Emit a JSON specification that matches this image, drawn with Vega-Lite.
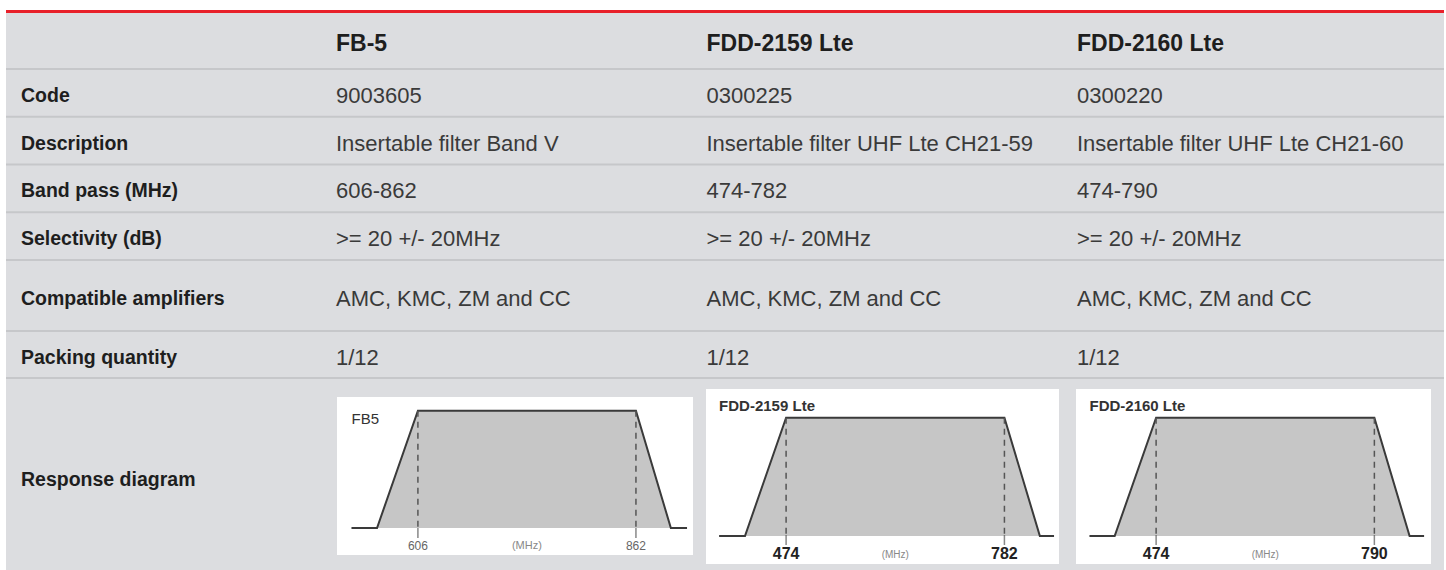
{
  "$schema": "https://vega.github.io/schema/vega-lite/v6.json",
  "background": "white",
  "padding": {"left": 5, "top": 10, "right": 3, "bottom": 0},
  "spacing": 0,
  "bounds": "flush",
  "config": {
    "view": {"stroke": null, "fill": "#dcdde0"},
    "text": {"font": "Liberation Sans"},
    "concat": {"spacing": 0}
  },
  "datasets": {
    "rows": [
      {"row": "Code", "section": "specs"},
      {"row": "Description", "section": "specs"},
      {"row": "Band pass (MHz)", "section": "specs"},
      {"row": "Selectivity (dB)", "section": "specs"},
      {"row": "Compatible amplifiers", "section": "compat"},
      {"row": "Packing quantity", "section": "packing"},
      {"row": "Response diagram", "section": "response"}
    ],
    "products": [
      {"product": "FB-5"},
      {"product": "FDD-2159 Lte"},
      {"product": "FDD-2160 Lte"}
    ],
    "cells": [
      {"row": "Code", "product": "FB-5", "value": "9003605"},
      {"row": "Code", "product": "FDD-2159 Lte", "value": "0300225"},
      {"row": "Code", "product": "FDD-2160 Lte", "value": "0300220"},
      {"row": "Description", "product": "FB-5", "value": "Insertable filter Band V"},
      {"row": "Description", "product": "FDD-2159 Lte", "value": "Insertable filter UHF Lte CH21-59"},
      {"row": "Description", "product": "FDD-2160 Lte", "value": "Insertable filter UHF Lte CH21-60"},
      {"row": "Band pass (MHz)", "product": "FB-5", "value": "606-862"},
      {"row": "Band pass (MHz)", "product": "FDD-2159 Lte", "value": "474-782"},
      {"row": "Band pass (MHz)", "product": "FDD-2160 Lte", "value": "474-790"},
      {"row": "Selectivity (dB)", "product": "FB-5", "value": ">= 20 +/- 20MHz"},
      {"row": "Selectivity (dB)", "product": "FDD-2159 Lte", "value": ">= 20 +/- 20MHz"},
      {"row": "Selectivity (dB)", "product": "FDD-2160 Lte", "value": ">= 20 +/- 20MHz"},
      {"row": "Compatible amplifiers", "product": "FB-5", "value": "AMC, KMC, ZM and CC"},
      {"row": "Compatible amplifiers", "product": "FDD-2159 Lte", "value": "AMC, KMC, ZM and CC"},
      {"row": "Compatible amplifiers", "product": "FDD-2160 Lte", "value": "AMC, KMC, ZM and CC"},
      {"row": "Packing quantity", "product": "FB-5", "value": "1/12"},
      {"row": "Packing quantity", "product": "FDD-2159 Lte", "value": "1/12"},
      {"row": "Packing quantity", "product": "FDD-2160 Lte", "value": "1/12"}
    ],
    "response": [
      {"product": "FB-5", "freq": 528, "level": 0},
      {"product": "FB-5", "freq": 558, "level": 0},
      {"product": "FB-5", "freq": 606, "level": 1},
      {"product": "FB-5", "freq": 862, "level": 1},
      {"product": "FB-5", "freq": 903, "level": 0},
      {"product": "FB-5", "freq": 922, "level": 0},
      {"product": "FDD-2159 Lte", "freq": 379.5, "level": 0},
      {"product": "FDD-2159 Lte", "freq": 416, "level": 0},
      {"product": "FDD-2159 Lte", "freq": 474, "level": 1},
      {"product": "FDD-2159 Lte", "freq": 782, "level": 1},
      {"product": "FDD-2159 Lte", "freq": 832, "level": 0},
      {"product": "FDD-2159 Lte", "freq": 852, "level": 0},
      {"product": "FDD-2160 Lte", "freq": 377.5, "level": 0},
      {"product": "FDD-2160 Lte", "freq": 414, "level": 0},
      {"product": "FDD-2160 Lte", "freq": 474, "level": 1},
      {"product": "FDD-2160 Lte", "freq": 790, "level": 1},
      {"product": "FDD-2160 Lte", "freq": 841, "level": 0},
      {"product": "FDD-2160 Lte", "freq": 862, "level": 0}
    ]
  },
  "vconcat": [
    {
      "width": 1438, "height": 3,
      "view": {"fill": "#e8202a"},
      "data": {"values": []},
      "mark": "rect",
      "encoding": {}
    },
    {
      "width": 1438, "height": 56,
      "data": {"name": "products"},
      "mark": {"type": "text", "align": "left", "fontWeight": "bold", "fontSize": 23, "dy": 3, "color": "#1e1e1e"},
      "encoding": {
        "x": {"field": "product", "type": "nominal", "sort": null, "bandPosition": 0.0405,
              "scale": {"type": "band", "paddingInner": 0, "paddingOuter": 0, "range": [315, 1426.5]}, "axis": null},
        "text": {"field": "product"}
      }
    },
    {
      "width": 1438, "height": 191,
      "resolve": {"scale": {"x": "independent"}},
      "layer": [
        {
          "data": {"name": "rows"},
          "transform": [{"filter": {"field": "section", "equal": "specs"}}],
          "mark": {"type": "rule", "color": "#c6c7ca", "strokeWidth": 2},
          "encoding": {
            "y": {"field": "row", "type": "nominal", "bandPosition": 0,
                  "scale": {"type": "band", "domain": ["Code", "Description", "Band pass (MHz)", "Selectivity (dB)"], "paddingInner": 0, "paddingOuter": 0}, "axis": null}
          }
        },
        {
          "data": {"name": "rows"},
          "transform": [{"filter": {"field": "section", "equal": "specs"}}],
          "mark": {"type": "text", "align": "left", "fontWeight": "bold", "fontSize": 19.5, "dy": 3, "color": "#1e1e1e"},
          "encoding": {
            "x": {"field": "section", "type": "nominal", "bandPosition": 0.0476,
                  "scale": {"type": "band", "paddingInner": 0, "paddingOuter": 0, "range": [0, 315]}, "axis": null},
            "y": {"field": "row", "type": "nominal",
                  "scale": {"type": "band", "domain": ["Code", "Description", "Band pass (MHz)", "Selectivity (dB)"], "paddingInner": 0, "paddingOuter": 0}, "axis": null},
            "text": {"field": "row"}
          }
        },
        {
          "data": {"name": "cells"},
          "transform": [{"filter": {"field": "row", "oneOf": ["Code", "Description", "Band pass (MHz)", "Selectivity (dB)"]}}],
          "mark": {"type": "text", "align": "left", "fontSize": 22, "dy": 3, "color": "#3a3a3a"},
          "encoding": {
            "x": {"field": "product", "type": "nominal", "sort": null, "bandPosition": 0.0405,
                  "scale": {"type": "band", "domain": ["FB-5", "FDD-2159 Lte", "FDD-2160 Lte"], "paddingInner": 0, "paddingOuter": 0, "range": [315, 1426.5]}, "axis": null},
            "y": {"field": "row", "type": "nominal",
                  "scale": {"type": "band", "domain": ["Code", "Description", "Band pass (MHz)", "Selectivity (dB)"], "paddingInner": 0, "paddingOuter": 0}, "axis": null},
            "text": {"field": "value"}
          }
        }
      ]
    },
    {
      "width": 1438, "height": 71,
      "resolve": {"scale": {"x": "independent"}},
      "layer": [
        {
          "data": {"name": "rows"},
          "transform": [{"filter": {"field": "section", "equal": "compat"}}],
          "mark": {"type": "rule", "color": "#c6c7ca", "strokeWidth": 2},
          "encoding": {
            "y": {"field": "row", "type": "nominal", "bandPosition": 0,
                  "scale": {"type": "band", "paddingInner": 0, "paddingOuter": 0}, "axis": null}
          }
        },
        {
          "data": {"name": "rows"},
          "transform": [{"filter": {"field": "section", "equal": "compat"}}],
          "mark": {"type": "text", "align": "left", "fontWeight": "bold", "fontSize": 19.5, "dy": 3, "color": "#1e1e1e"},
          "encoding": {
            "x": {"field": "section", "type": "nominal", "bandPosition": 0.0476,
                  "scale": {"type": "band", "paddingInner": 0, "paddingOuter": 0, "range": [0, 315]}, "axis": null},
            "y": {"field": "row", "type": "nominal", "scale": {"type": "band", "paddingInner": 0, "paddingOuter": 0}, "axis": null},
            "text": {"field": "row"}
          }
        },
        {
          "data": {"name": "cells"},
          "transform": [{"filter": {"field": "row", "equal": "Compatible amplifiers"}}],
          "mark": {"type": "text", "align": "left", "fontSize": 22, "dy": 3, "color": "#3a3a3a"},
          "encoding": {
            "x": {"field": "product", "type": "nominal", "sort": null, "bandPosition": 0.0405,
                  "scale": {"type": "band", "domain": ["FB-5", "FDD-2159 Lte", "FDD-2160 Lte"], "paddingInner": 0, "paddingOuter": 0, "range": [315, 1426.5]}, "axis": null},
            "y": {"field": "row", "type": "nominal", "scale": {"type": "band", "paddingInner": 0, "paddingOuter": 0}, "axis": null},
            "text": {"field": "value"}
          }
        }
      ]
    },
    {
      "width": 1438, "height": 48,
      "resolve": {"scale": {"x": "independent"}},
      "layer": [
        {
          "data": {"name": "rows"},
          "transform": [{"filter": {"field": "section", "equal": "packing"}}],
          "mark": {"type": "rule", "color": "#c6c7ca", "strokeWidth": 2},
          "encoding": {
            "y": {"field": "row", "type": "nominal", "bandPosition": 0,
                  "scale": {"type": "band", "paddingInner": 0, "paddingOuter": 0}, "axis": null}
          }
        },
        {
          "data": {"name": "rows"},
          "transform": [{"filter": {"field": "section", "equal": "packing"}}],
          "mark": {"type": "rule", "color": "#c6c7ca", "strokeWidth": 2},
          "encoding": {
            "y": {"field": "row", "type": "nominal", "bandPosition": 0.98,
                  "scale": {"type": "band", "paddingInner": 0, "paddingOuter": 0}, "axis": null}
          }
        },
        {
          "data": {"name": "rows"},
          "transform": [{"filter": {"field": "section", "equal": "packing"}}],
          "mark": {"type": "text", "align": "left", "fontWeight": "bold", "fontSize": 19.5, "dy": 3, "color": "#1e1e1e"},
          "encoding": {
            "x": {"field": "section", "type": "nominal", "bandPosition": 0.0476,
                  "scale": {"type": "band", "paddingInner": 0, "paddingOuter": 0, "range": [0, 315]}, "axis": null},
            "y": {"field": "row", "type": "nominal", "scale": {"type": "band", "paddingInner": 0, "paddingOuter": 0}, "axis": null},
            "text": {"field": "row"}
          }
        },
        {
          "data": {"name": "cells"},
          "transform": [{"filter": {"field": "row", "equal": "Packing quantity"}}],
          "mark": {"type": "text", "align": "left", "fontSize": 22, "dy": 3, "color": "#3a3a3a"},
          "encoding": {
            "x": {"field": "product", "type": "nominal", "sort": null, "bandPosition": 0.0405,
                  "scale": {"type": "band", "domain": ["FB-5", "FDD-2159 Lte", "FDD-2160 Lte"], "paddingInner": 0, "paddingOuter": 0, "range": [315, 1426.5]}, "axis": null},
            "y": {"field": "row", "type": "nominal", "scale": {"type": "band", "paddingInner": 0, "paddingOuter": 0}, "axis": null},
            "text": {"field": "value"}
          }
        }
      ]
    },
    {
      "width": 1438, "height": 191,
      "resolve": {"scale": {"x": "independent", "y": "independent"}},
      "layer": [
        {
          "data": {"name": "rows"},
          "transform": [{"filter": {"field": "section", "equal": "response"}}],
          "mark": {"type": "text", "align": "left", "fontWeight": "bold", "fontSize": 19.5, "dy": 5, "color": "#1e1e1e"},
          "encoding": {
            "x": {"field": "section", "type": "nominal", "bandPosition": 0.0476,
                  "scale": {"type": "band", "paddingInner": 0, "paddingOuter": 0, "range": [0, 315]}, "axis": null},
            "text": {"field": "row"}
          }
        },
        {
          "data": {"name": "response"},
          "transform": [{"filter": {"field": "product", "equal": "FB-5"}}],
          "encoding": {
            "x": {"field": "freq", "type": "quantitative", "scale": {"domain": [511, 929], "range": [331, 687], "nice": false, "zero": false}, "axis": null}
          },
          "layer": [
            {
              "transform": [{"aggregate": [{"op": "count", "as": "n"}]}],
              "mark": {"type": "rect", "color": "white"},
              "encoding": {
                "x": {"datum": 511, "type": "quantitative", "scale": {"domain": [511, 929], "range": [331, 687], "nice": false, "zero": false}, "axis": null},
                "x2": {"datum": 929},
                "y": {"datum": -0.23, "type": "quantitative", "scale": {"domain": [-0.23, 1.117], "range": [176, 18], "nice": false, "zero": false}, "axis": null},
                "y2": {"datum": 1.117}
              }
            },
            {
              "mark": {"type": "area", "color": "#c6c6c6", "opacity": 1},
              "encoding": {
                "y": {"field": "level", "type": "quantitative", "scale": {"domain": [-0.23, 1.117], "range": [176, 18], "nice": false, "zero": false}, "axis": null},
                "y2": {"datum": 0}
              }
            },
            {
              "mark": {"type": "line", "color": "#3a3a3a", "strokeWidth": 2},
              "encoding": {
                "y": {"field": "level", "type": "quantitative", "scale": {"domain": [-0.23, 1.117], "range": [176, 18], "nice": false, "zero": false}, "axis": null}
              }
            },
            {
              "transform": [{"filter": "datum.level == 1"}],
              "mark": {"type": "rule", "color": "#555555", "strokeWidth": 1.5, "strokeDash": [6, 5]},
              "encoding": {
                "y": {"field": "level", "type": "quantitative", "scale": {"domain": [-0.23, 1.117], "range": [176, 18], "nice": false, "zero": false}, "axis": null},
                "y2": {"datum": 0}
              }
            },
            {
              "transform": [{"filter": "datum.level == 1"}],
              "mark": {"type": "tick", "orient": "vertical", "size": 10, "thickness": 1.5, "yOffset": 5, "color": "#555555"},
              "encoding": {
                "y": {"datum": 0, "type": "quantitative", "scale": {"domain": [-0.23, 1.117], "range": [176, 18], "nice": false, "zero": false}, "axis": null}
              }
            },
            {
              "transform": [{"filter": "datum.level == 1"}],
              "mark": {"type": "text", "fontSize": 12, "dy": 17.5, "color": "#666666"},
              "encoding": {
                "y": {"datum": 0, "type": "quantitative", "scale": {"domain": [-0.23, 1.117], "range": [176, 18], "nice": false, "zero": false}, "axis": null},
                "text": {"field": "freq", "type": "quantitative", "format": "d"}
              }
            },
            {
              "transform": [{"filter": "datum.level == 1"}, {"aggregate": [{"op": "mean", "field": "freq", "as": "freq"}]}],
              "mark": {"type": "text", "text": "(MHz)", "fontSize": 11, "dy": 17.5, "color": "#888888"},
              "encoding": {
                "y": {"datum": 0, "type": "quantitative", "scale": {"domain": [-0.23, 1.117], "range": [176, 18], "nice": false, "zero": false}, "axis": null}
              }
            },
            {
              "transform": [{"aggregate": [{"op": "min", "field": "freq", "as": "freq"}]}],
              "mark": {"type": "text", "text": "FB5", "align": "left", "fontSize": 15, "dy": 8, "color": "#333333"},
              "encoding": {
                "y": {"datum": 1, "type": "quantitative", "scale": {"domain": [-0.23, 1.117], "range": [176, 18], "nice": false, "zero": false}, "axis": null}
              }
            }
          ]
        },
        {
          "data": {"name": "response"},
          "transform": [{"filter": {"field": "product", "equal": "FDD-2159 Lte"}}],
          "encoding": {
            "x": {"field": "freq", "type": "quantitative", "scale": {"domain": [361, 859], "range": [700, 1053], "nice": false, "zero": false}, "axis": null}
          },
          "layer": [
            {
              "transform": [{"aggregate": [{"op": "count", "as": "n"}]}],
              "mark": {"type": "rect", "color": "white"},
              "encoding": {
                "x": {"datum": 361, "type": "quantitative", "scale": {"domain": [361, 859], "range": [700, 1053], "nice": false, "zero": false}, "axis": null},
                "x2": {"datum": 859},
                "y": {"datum": -0.237, "type": "quantitative", "scale": {"domain": [-0.237, 1.243], "range": [185, 10], "nice": false, "zero": false}, "axis": null},
                "y2": {"datum": 1.243}
              }
            },
            {
              "mark": {"type": "area", "color": "#c6c6c6", "opacity": 1},
              "encoding": {
                "y": {"field": "level", "type": "quantitative", "scale": {"domain": [-0.237, 1.243], "range": [185, 10], "nice": false, "zero": false}, "axis": null},
                "y2": {"datum": 0}
              }
            },
            {
              "mark": {"type": "line", "color": "#3a3a3a", "strokeWidth": 2},
              "encoding": {
                "y": {"field": "level", "type": "quantitative", "scale": {"domain": [-0.237, 1.243], "range": [185, 10], "nice": false, "zero": false}, "axis": null}
              }
            },
            {
              "transform": [{"filter": "datum.level == 1"}],
              "mark": {"type": "rule", "color": "#555555", "strokeWidth": 1.5, "strokeDash": [6, 5]},
              "encoding": {
                "y": {"field": "level", "type": "quantitative", "scale": {"domain": [-0.237, 1.243], "range": [185, 10], "nice": false, "zero": false}, "axis": null},
                "y2": {"datum": 0}
              }
            },
            {
              "transform": [{"filter": "datum.level == 1"}],
              "mark": {"type": "tick", "orient": "vertical", "size": 10, "thickness": 1.5, "yOffset": 4, "color": "#555555"},
              "encoding": {
                "y": {"datum": 0, "type": "quantitative", "scale": {"domain": [-0.237, 1.243], "range": [185, 10], "nice": false, "zero": false}, "axis": null}
              }
            },
            {
              "transform": [{"filter": "datum.level == 1"}],
              "mark": {"type": "text", "fontSize": 16, "fontWeight": "bold", "dy": 18, "color": "#222222"},
              "encoding": {
                "y": {"datum": 0, "type": "quantitative", "scale": {"domain": [-0.237, 1.243], "range": [185, 10], "nice": false, "zero": false}, "axis": null},
                "text": {"field": "freq", "type": "quantitative", "format": "d"}
              }
            },
            {
              "transform": [{"filter": "datum.level == 1"}, {"aggregate": [{"op": "mean", "field": "freq", "as": "freq"}]}],
              "mark": {"type": "text", "text": "(MHz)", "fontSize": 10, "dy": 19, "color": "#888888"},
              "encoding": {
                "y": {"datum": 0, "type": "quantitative", "scale": {"domain": [-0.237, 1.243], "range": [185, 10], "nice": false, "zero": false}, "axis": null}
              }
            },
            {
              "transform": [{"aggregate": [{"op": "min", "field": "freq", "as": "freq"}]}],
              "mark": {"type": "text", "text": "FDD-2159 Lte", "align": "left", "fontSize": 15, "fontWeight": "bold", "dy": -12, "color": "#333333"},
              "encoding": {
                "y": {"datum": 1, "type": "quantitative", "scale": {"domain": [-0.237, 1.243], "range": [185, 10], "nice": false, "zero": false}, "axis": null}
              }
            }
          ]
        },
        {
          "data": {"name": "response"},
          "transform": [{"filter": {"field": "product", "equal": "FDD-2160 Lte"}}],
          "encoding": {
            "x": {"field": "freq", "type": "quantitative", "scale": {"domain": [358, 872], "range": [1070, 1425], "nice": false, "zero": false}, "axis": null}
          },
          "layer": [
            {
              "transform": [{"aggregate": [{"op": "count", "as": "n"}]}],
              "mark": {"type": "rect", "color": "white"},
              "encoding": {
                "x": {"datum": 358, "type": "quantitative", "scale": {"domain": [358, 872], "range": [1070, 1425], "nice": false, "zero": false}, "axis": null},
                "x2": {"datum": 872},
                "y": {"datum": -0.237, "type": "quantitative", "scale": {"domain": [-0.237, 1.243], "range": [185, 10], "nice": false, "zero": false}, "axis": null},
                "y2": {"datum": 1.243}
              }
            },
            {
              "mark": {"type": "area", "color": "#c6c6c6", "opacity": 1},
              "encoding": {
                "y": {"field": "level", "type": "quantitative", "scale": {"domain": [-0.237, 1.243], "range": [185, 10], "nice": false, "zero": false}, "axis": null},
                "y2": {"datum": 0}
              }
            },
            {
              "mark": {"type": "line", "color": "#3a3a3a", "strokeWidth": 2},
              "encoding": {
                "y": {"field": "level", "type": "quantitative", "scale": {"domain": [-0.237, 1.243], "range": [185, 10], "nice": false, "zero": false}, "axis": null}
              }
            },
            {
              "transform": [{"filter": "datum.level == 1"}],
              "mark": {"type": "rule", "color": "#555555", "strokeWidth": 1.5, "strokeDash": [6, 5]},
              "encoding": {
                "y": {"field": "level", "type": "quantitative", "scale": {"domain": [-0.237, 1.243], "range": [185, 10], "nice": false, "zero": false}, "axis": null},
                "y2": {"datum": 0}
              }
            },
            {
              "transform": [{"filter": "datum.level == 1"}],
              "mark": {"type": "tick", "orient": "vertical", "size": 10, "thickness": 1.5, "yOffset": 4, "color": "#555555"},
              "encoding": {
                "y": {"datum": 0, "type": "quantitative", "scale": {"domain": [-0.237, 1.243], "range": [185, 10], "nice": false, "zero": false}, "axis": null}
              }
            },
            {
              "transform": [{"filter": "datum.level == 1"}],
              "mark": {"type": "text", "fontSize": 16, "fontWeight": "bold", "dy": 18, "color": "#222222"},
              "encoding": {
                "y": {"datum": 0, "type": "quantitative", "scale": {"domain": [-0.237, 1.243], "range": [185, 10], "nice": false, "zero": false}, "axis": null},
                "text": {"field": "freq", "type": "quantitative", "format": "d"}
              }
            },
            {
              "transform": [{"filter": "datum.level == 1"}, {"aggregate": [{"op": "mean", "field": "freq", "as": "freq"}]}],
              "mark": {"type": "text", "text": "(MHz)", "fontSize": 10, "dy": 19, "color": "#888888"},
              "encoding": {
                "y": {"datum": 0, "type": "quantitative", "scale": {"domain": [-0.237, 1.243], "range": [185, 10], "nice": false, "zero": false}, "axis": null}
              }
            },
            {
              "transform": [{"aggregate": [{"op": "min", "field": "freq", "as": "freq"}]}],
              "mark": {"type": "text", "text": "FDD-2160 Lte", "align": "left", "fontSize": 15, "fontWeight": "bold", "dy": -12, "color": "#333333"},
              "encoding": {
                "y": {"datum": 1, "type": "quantitative", "scale": {"domain": [-0.237, 1.243], "range": [185, 10], "nice": false, "zero": false}, "axis": null}
              }
            }
          ]
        }
      ]
    }
  ]
}
